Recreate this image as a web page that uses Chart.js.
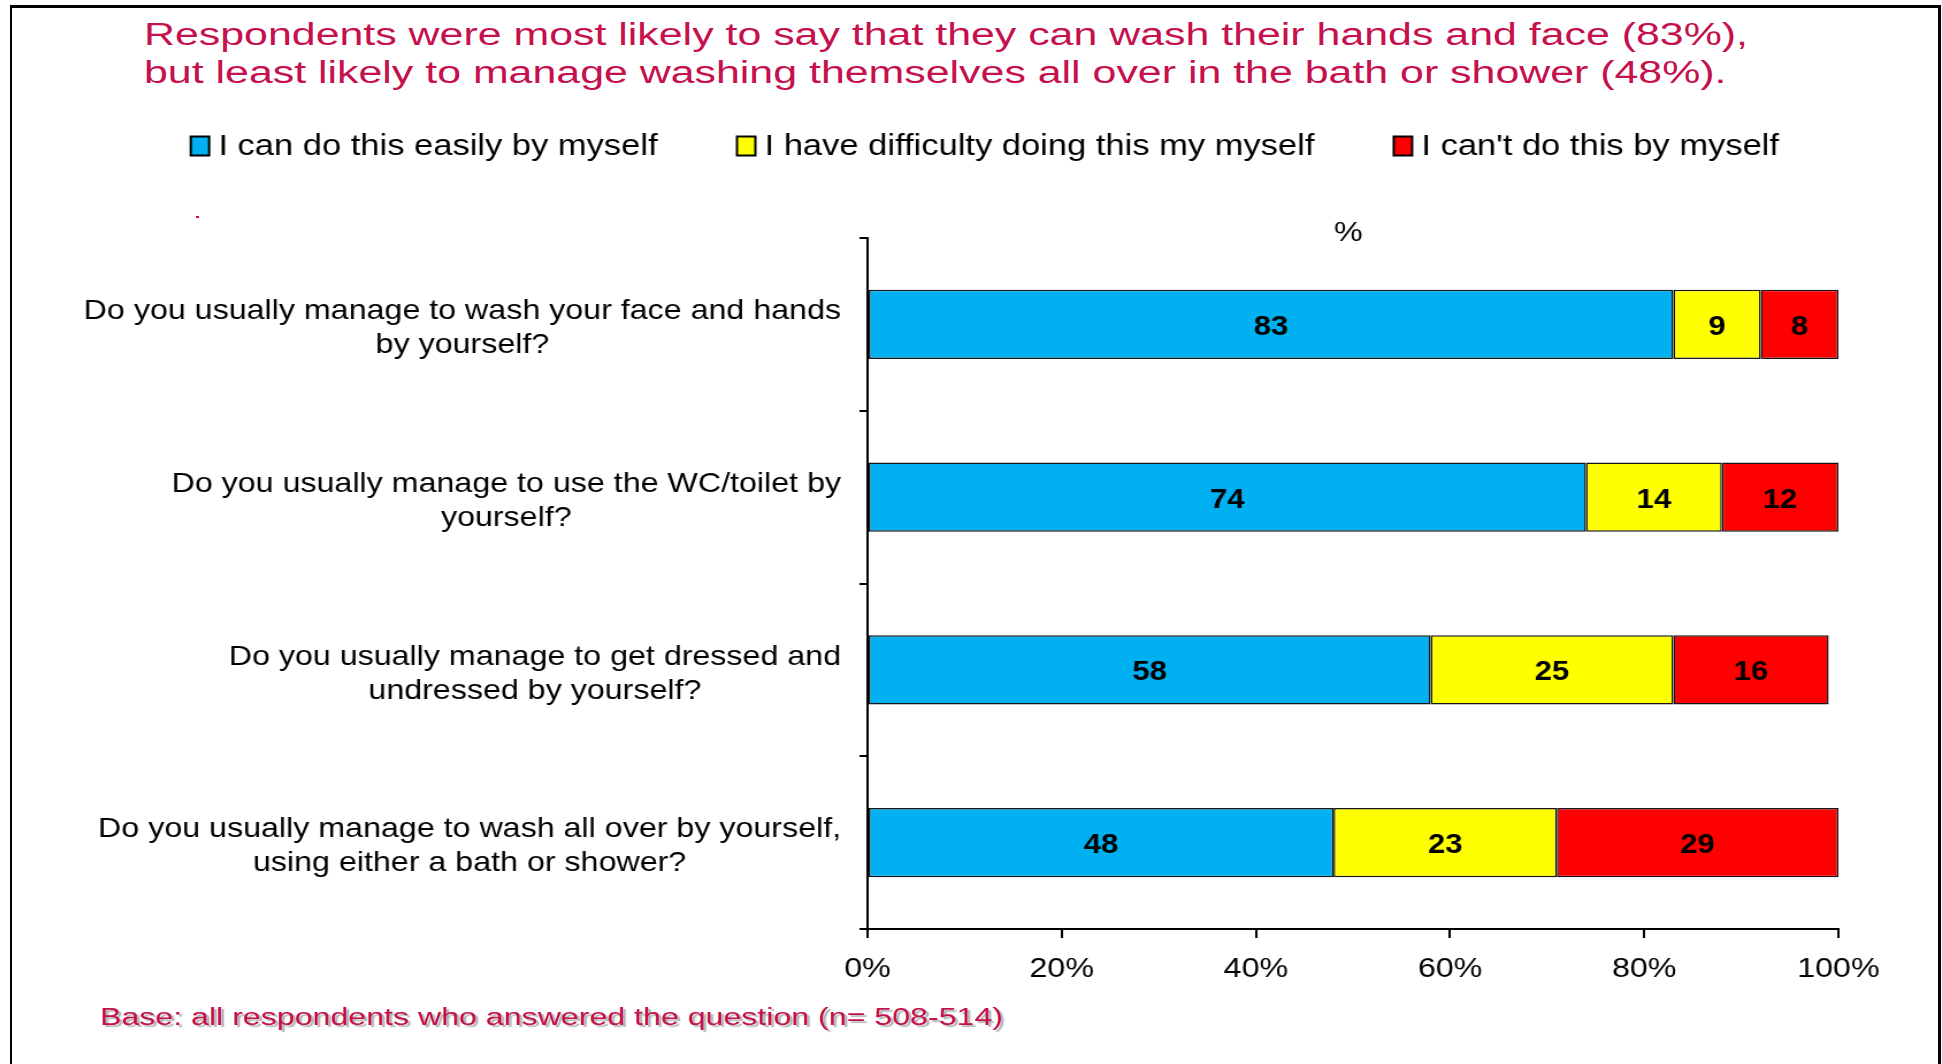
<!DOCTYPE html>
<html>
<head>
<meta charset="utf-8">
<title>Personal care</title>
<script src="https://cdn.jsdelivr.net/npm/chart.js@4.4.1/dist/chart.umd.min.js"></script>
<style>
  html, body { margin: 0; padding: 0; background: #fff; }
  body { width: 1942px; height: 1064px; position: relative; overflow: hidden; font-family: "Liberation Sans", Arial, sans-serif; }
  #frame { position: absolute; left: 10px; top: 5px; width: 1931px; height: 1080px; box-sizing: border-box;
           border-top: 3px solid #000; border-left: 2px solid #000; border-right: 3px solid #000; }
  .headline { position: absolute; left: 144px; top: 16px; font-size: 31px; line-height: 38px; color: #c5114d;
              white-space: nowrap; transform-origin: 0 0; }
  .base { position: absolute; left: 100px; top: 1004px; font-size: 23px; line-height: 26px; color: #c5114d;
          white-space: nowrap; text-shadow: 2px 2px 1px #b3b3b3; transform-origin: 0 0; }
  .dot { position: absolute; left: 196px; top: 216px; width: 3px; height: 2px; background: #c5114d; }
  /* the chart is drawn narrow and widened by CSS, like the wide slide it came from */
  #chart { position: absolute; left: 14px; top: 0; }
</style>
</head>
<body>
<div id="frame"></div>
<div class="headline">Respondents were most likely to say that they can wash their hands and face (83%),<br>but least likely to manage washing themselves all over in the bath or shower (48%).</div>
<div class="dot"></div>
<canvas id="chart" width="1670" height="1000" style="width:1920.5px;height:1000px"></canvas>
<div class="base">Base: all respondents who answered the question (n= 508-514)</div>
<script>
const questions = [
  ['Do you usually manage to wash your face and hands', 'by yourself?'],
  ['Do you usually manage to use the WC/toilet by', 'yourself?'],
  ['Do you usually manage to get dressed and', 'undressed by yourself?'],
  ['Do you usually manage to wash all over by yourself,', 'using either a bath or shower?']
];
const seriesNames = [
  'I can do this easily by myself',
  'I have difficulty doing this my myself',
  "I can't do this by myself"
];
const easily = [83, 74, 58, 48];
const difficulty = [9, 14, 25, 23];
const cannot = [8, 12, 16, 29];
const xTickValues = [0, 20, 40, 60, 80, 100];
const unitLabel = '%';

const colours = ['#00b0f0', '#ffff00', '#ff0000'];

Chart.defaults.font.family = '"Liberation Sans", Arial, sans-serif';
Chart.defaults.color = '#000';

// legend row above the bars
const legendRow = {
  id: 'legendRow',
  afterDraw(chart) {
    const ctx = chart.ctx;
    const boxW = 16, boxH = 19, gap = 8, spacing = 69;
    const centerX = 844, midY = 146;
    ctx.save();
    ctx.font = '30px "Liberation Sans", Arial, sans-serif';
    ctx.textBaseline = 'middle';
    const items = chart.data.datasets.map(ds => ({
      text: ds.label,
      fill: ds.backgroundColor,
      w: boxW + gap + ctx.measureText(ds.label).width
    }));
    const total = items.reduce((s, it) => s + it.w, 0) + spacing * (items.length - 1);
    let x = centerX - total / 2;
    items.forEach(it => {
      ctx.fillStyle = it.fill;
      ctx.fillRect(x, midY - boxH / 2, boxW, boxH);
      ctx.lineWidth = 2;
      ctx.strokeStyle = '#000';
      ctx.strokeRect(x, midY - boxH / 2, boxW, boxH);
      ctx.fillStyle = '#000';
      ctx.fillText(it.text, x + boxW + gap, midY + 1);
      x += it.w + spacing;
    });
    ctx.restore();
  }
};

// question text: block right-aligned to the axis, lines centred on each other
const questionLabels = {
  id: 'questionLabels',
  afterDraw(chart) {
    const {ctx, chartArea, scales: {y}} = chart;
    ctx.save();
    ctx.fillStyle = '#000';
    ctx.textAlign = 'center';
    ctx.textBaseline = 'middle';
    ctx.font = '28px "Liberation Sans", Arial, sans-serif';
    ctx.fillText(unitLabel, (chartArea.left + chartArea.right) / 2 - 4, chartArea.top - 5);
    const right = y.right - 23;
    chart.data.labels.forEach((lines, i) => {
      const widest = Math.max(...lines.map(t => ctx.measureText(t).width));
      const cx = right - widest / 2;
      const cy = y.getPixelForValue(i) + 4;
      lines.forEach((t, k) => ctx.fillText(t, cx, cy + (k - (lines.length - 1) / 2) * 34));
    });
    ctx.restore();
  }
};

// percentage written in the middle of every segment
const barValues = {
  id: 'barValues',
  afterDatasetsDraw(chart) {
    const ctx = chart.ctx;
    ctx.save();
    ctx.font = 'bold 27px "Liberation Sans", Arial, sans-serif';
    ctx.fillStyle = '#000';
    ctx.textAlign = 'center';
    ctx.textBaseline = 'middle';
    chart.data.datasets.forEach((ds, i) => {
      chart.getDatasetMeta(i).data.forEach((bar, j) => {
        const p = bar.getCenterPoint();
        ctx.fillText(ds.data[j], p.x, p.y + 3);
      });
    });
    ctx.restore();
  }
};

const makeSet = (label, data, colour) => ({
  label: label,
  data: data,
  backgroundColor: colour,
  borderColor: '#161616',
  borderWidth: 1.5,
  borderSkipped: false,
  barPercentage: 0.4,
  categoryPercentage: 1
});

new Chart(document.getElementById('chart'), {
  type: 'bar',
  data: {
    labels: questions,
    datasets: [
      makeSet(seriesNames[0], easily, colours[0]),
      makeSet(seriesNames[1], difficulty, colours[1]),
      makeSet(seriesNames[2], cannot, colours[2])
    ]
  },
  options: {
    indexAxis: 'y',
    responsive: false,
    animation: false,
    layout: { padding: { top: 238, right: 84, left: 0, bottom: 0 } },
    plugins: {
      legend: { display: false },
      tooltip: { enabled: false }
    },
    scales: {
      x: {
        type: 'linear',
        stacked: true,
        min: xTickValues[0],
        max: xTickValues[xTickValues.length - 1],
        afterBuildTicks(scale) {
          scale.ticks = xTickValues.map(v => ({ value: v }));
        },
        afterFit(scale) { scale.height = 71; },
        ticks: {
          font: { size: 28 },
          color: '#000',
          padding: 14,
          callback: v => v + '%'
        },
        grid: { drawOnChartArea: false, drawTicks: true, tickLength: 9, color: '#000', lineWidth: 2 },
        border: { display: true, color: '#000', width: 2 }
      },
      y: {
        stacked: true,
        afterFit(scale) { scale.width = 742; },
        ticks: { display: false },
        grid: { offset: true, drawOnChartArea: false, drawTicks: true, tickLength: 7, color: '#000', lineWidth: 2 },
        border: { display: true, color: '#000', width: 2 }
      }
    }
  },
  plugins: [legendRow, questionLabels, barValues]
});

// the headline and base note are set wider than the font draws them
function stretchTo(el, width) {
  el.style.transform = 'none';
  const w = el.getBoundingClientRect().width;
  el.style.transform = 'scaleX(' + (width / w) + ')';
}
function stretchText() {
  stretchTo(document.querySelector('.headline'), 1604);
  stretchTo(document.querySelector('.base'), 903);
}
stretchText();
document.fonts.ready.then(stretchText);
</script>
</body>
</html>
